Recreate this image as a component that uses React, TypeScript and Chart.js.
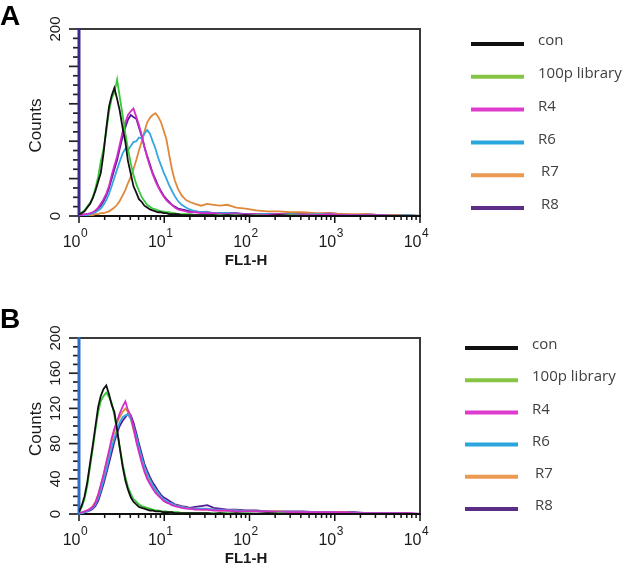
import React, { useEffect, useRef } from "react";
import { Chart, registerables } from "chart.js";

Chart.register(...registerables);

// ---------- data ----------
const SERIES_NAMES = ["con", "100p library", "R4", "R6", "R7", "R8"];
const LINE_COLORS = ["#111111", "#38c838", "#d42cc8", "#34a6e0", "#e0883a", "#561c96"];
const LEGEND_COLORS = ["#111111", "#86c443", "#df3ccf", "#2aa6dc", "#ec9a52", "#5b2d86"];

// FL1-H channel positions (log scale)
const FL1 = [
  1, 1.08, 1.16, 1.25, 1.35, 1.45, 1.56, 1.68, 1.8, 1.94,
  2.09, 2.25, 2.42, 2.6, 2.8, 3.0, 3.25, 3.5, 3.75, 4.05,
  4.35, 4.7, 5.05, 5.45, 5.85, 6.3, 6.8, 7.3, 7.9, 8.5,
  9.1, 9.8, 10.6, 11.4, 12.3, 13.3, 14.5, 16, 18, 20,
  23, 27, 32, 38, 45, 55, 70, 90, 120, 160,
  220, 300, 420, 600, 850, 1200, 1700, 2400, 3400, 5000,
  7000, 10000,
];

// Panel A counts
const A_CON = [
  2, 3, 5, 9, 13, 19, 27, 37, 46, 67,
  94, 117, 129, 137, 125, 113, 94, 79, 59, 45,
  32, 25, 18, 15, 11, 9, 7, 6, 5, 4,
  4, 3, 3, 2, 2, 2, 2, 1, 1, 1,
  1, 1, 1, 1, 0, 1, 0, 1, 0, 0,
  1, 0, 0, 0, 0, 0, 0, 0, 0, 0,
  0, 0,
];
const A_LIB = [
  2, 4, 6, 10, 14, 20, 30, 42, 58, 72,
  90, 112, 126, 132, 146, 128, 108, 88, 72, 56,
  44, 34, 27, 20, 16, 12, 10, 8, 7, 6,
  5, 5, 4, 4, 3, 3, 2, 2, 2, 2,
  1, 1, 1, 1, 1, 1, 1, 0, 1, 0,
  0, 1, 0, 0, 0, 0, 0, 0, 0, 0,
  0, 0,
];
const A_R4 = [
  1, 1, 2, 2, 3, 4, 6, 9, 13, 18,
  24, 32, 44, 54, 64, 76, 90, 100, 108, 112,
  115, 106, 97, 86, 74, 63, 53, 45, 37, 31,
  26, 21, 17, 14, 12, 9, 7, 6, 5, 4,
  4, 3, 3, 3, 2, 2, 2, 2, 2, 1,
  2, 1, 1, 1, 2, 1, 1, 1, 1, 0,
  0, 0,
];
const A_R6 = [
  0, 0, 1, 1, 2, 3, 4, 6, 8, 12,
  17, 24, 32, 41, 50, 58, 67, 72, 70, 75,
  79, 80, 84, 83, 88, 92, 88, 80, 72, 62,
  55, 47, 40, 33, 27, 21, 16, 12, 9, 7,
  5, 4, 4, 3, 3, 3, 2, 2, 2, 2,
  1, 2, 1, 2, 2, 1, 1, 1, 1, 0,
  1, 0,
];
const A_R7 = [
  0, 0, 0, 1, 1, 1, 2, 2, 3, 3,
  4, 5, 7, 9, 12, 16, 22, 28, 35, 42,
  50, 60, 70, 80, 90, 100, 105, 108, 110, 106,
  101, 92, 82, 66, 50, 38, 29, 22, 17, 15,
  13, 11, 13, 12, 11, 12, 9, 8, 6, 5,
  5, 4, 4, 3, 3, 2, 2, 2, 1, 1,
  1, 0,
];
const A_R8 = [
  1, 1, 1, 2, 2, 3, 5, 8, 11, 16,
  22, 30, 40, 50, 60, 72, 85, 95, 103, 108,
  106, 104, 95, 85, 74, 64, 55, 46, 39, 32,
  27, 22, 18, 15, 12, 10, 8, 7, 6, 5,
  5, 4, 4, 3, 3, 3, 3, 2, 2, 2,
  2, 2, 2, 2, 3, 2, 1, 2, 1, 1,
  1, 0,
];

// Panel B counts
const B_CON = [
  2, 10, 20, 36, 58, 78, 100, 122, 134, 142,
  146, 136, 124, 116, 96, 76, 54, 38, 28, 19,
  14, 11, 8, 7, 6, 5, 4, 4, 3, 3,
  3, 2, 2, 2, 2, 1, 1, 1, 1, 1,
  1, 1, 1, 0, 1, 0, 1, 0, 0, 1,
  0, 0, 0, 0, 0, 0, 0, 0, 0, 0,
  0, 0,
];
const B_LIB = [
  2, 8, 17, 32, 54, 74, 96, 116, 128, 134,
  138, 133, 126, 112, 94, 76, 57, 42, 31, 23,
  17, 14, 11, 9, 8, 7, 6, 5, 4, 4,
  3, 3, 3, 2, 2, 2, 2, 1, 1, 1,
  1, 1, 1, 1, 1, 1, 0, 1, 0, 0,
  1, 0, 0, 0, 0, 0, 0, 0, 0, 0,
  0, 0,
];
const B_R4 = [
  1, 2, 3, 4, 6, 8, 13, 22, 33, 45,
  59, 72, 86, 97, 106, 114, 122, 128, 118, 112,
  98, 82, 70, 58, 48, 40, 34, 29, 24, 21,
  18, 15, 13, 12, 10, 9, 8, 7, 6, 6,
  5, 5, 5, 4, 4, 4, 3, 3, 3, 3,
  2, 2, 2, 2, 2, 2, 1, 1, 1, 1,
  1, 0,
];
const B_R6 = [
  1, 1, 2, 3, 5, 7, 11, 18, 27, 38,
  50, 63, 76, 86, 96, 104, 110, 112, 113, 108,
  100, 88, 76, 64, 54, 46, 39, 33, 28, 24,
  20, 17, 15, 13, 12, 10, 9, 8, 7, 6,
  6, 6, 6, 5, 5, 4, 4, 3, 3, 3,
  2, 2, 2, 2, 2, 1, 1, 1, 1, 1,
  0, 0,
];
const B_R7 = [
  1, 1, 2, 4, 6, 9, 14, 22, 32, 44,
  57, 70, 83, 94, 104, 110, 116, 120, 116, 108,
  96, 84, 72, 60, 50, 42, 36, 30, 26, 22,
  19, 16, 14, 12, 11, 10, 9, 8, 7, 6,
  6, 5, 5, 5, 4, 4, 4, 3, 3, 3,
  3, 2, 2, 2, 2, 2, 1, 1, 1, 1,
  0, 0,
];
const B_R8 = [
  1, 1, 2, 3, 4, 6, 9, 15, 24, 34,
  46, 58, 70, 82, 92, 100, 106, 110, 114, 112,
  104, 92, 80, 68, 57, 49, 42, 36, 31, 26,
  22, 19, 17, 15, 13, 11, 10, 9, 8, 7,
  8, 9, 10, 7, 6, 5, 5, 4, 4, 3,
  3, 3, 3, 2, 2, 2, 2, 1, 1, 1,
  1, 0,
];

// axes / ticks
const X_DECADES = [1, 10, 100, 1000, 10000];
const X_EXPONENTS = ["0", "1", "2", "3", "4"];
const X_MINOR_MULTS = [2, 3, 4, 5, 6, 7, 8, 9];
const Y_MAX = 200;
const Y_MINOR_STEP = 10;
const Y_MAJOR_STEP = 40;
const A_Y_LABELS = [0, 200];
const B_Y_LABELS = [0, 40, 80, 120, 160, 200];
const X_TITLE = "FL1-H";
const Y_TITLE = "Counts";

const W = 642;
const H = 283;
const FONT = '"Liberation Sans", Arial, sans-serif';

type PanelCfg = {
  letter: string;
  series: number[][];
  yLabels: number[];
  top: number;
  xAxisH: number;
  leftColor: string;
  legendLeft: number;
  legendTop: number;
  legendStep: number;
  letterBaseline: number;
};

const PANELS: PanelCfg[] = [
  {
    letter: "A",
    series: [A_CON, A_LIB, A_R4, A_R6, A_R7, A_R8],
    yLabels: A_Y_LABELS,
    top: 29,
    xAxisH: 67,
    leftColor: "#3a2a8c",
    legendLeft: 471,
    legendTop: 44,
    legendStep: 32.8,
    letterBaseline: 25,
  },
  {
    letter: "B",
    series: [B_CON, B_LIB, B_R4, B_R6, B_R7, B_R8],
    yLabels: B_Y_LABELS,
    top: 55,
    xAxisH: 52,
    leftColor: "#2f6cc8",
    legendLeft: 465,
    legendTop: 65,
    legendStep: 32.2,
    letterBaseline: 45,
  },
];

function makePlugin(cfg: PanelCfg) {
  return {
    id: "facsDecor",
    beforeDatasetsDraw(chart: any) {
      const { ctx, chartArea: a, scales } = chart;
      const xs = scales.x;
      const ys = scales.y;
      ctx.save();
      // top & right frame
      ctx.strokeStyle = "#3a3a3a";
      ctx.lineWidth = 2;
      ctx.beginPath();
      ctx.moveTo(a.left, a.top);
      ctx.lineTo(a.right, a.top);
      ctx.lineTo(a.right, a.bottom);
      ctx.stroke();
      // bottom axis
      ctx.strokeStyle = "#111";
      ctx.lineWidth = 2;
      ctx.beginPath();
      ctx.moveTo(a.left, a.bottom);
      ctx.lineTo(a.right + 1, a.bottom);
      ctx.stroke();
      // x ticks
      ctx.lineWidth = 1.5;
      ctx.strokeStyle = "#111";
      X_DECADES.forEach((d, i) => {
        const px = xs.getPixelForValue(d);
        ctx.beginPath();
        ctx.moveTo(px, a.bottom);
        ctx.lineTo(px, a.bottom + 7);
        ctx.stroke();
        if (i < X_DECADES.length - 1) {
          X_MINOR_MULTS.forEach((m) => {
            const p = xs.getPixelForValue(d * m);
            ctx.beginPath();
            ctx.moveTo(p, a.bottom);
            ctx.lineTo(p, a.bottom + 4);
            ctx.stroke();
          });
        }
      });
      // y ticks
      for (let v = 0; v <= Y_MAX; v += Y_MINOR_STEP) {
        const py = ys.getPixelForValue(v);
        const len = v % Y_MAJOR_STEP === 0 ? 10 : 6;
        ctx.strokeStyle = "#222";
        ctx.lineWidth = 1.7;
        ctx.beginPath();
        ctx.moveTo(a.left - len, py);
        ctx.lineTo(a.left, py);
        ctx.stroke();
      }
      // left axis
      ctx.strokeStyle = cfg.leftColor;
      ctx.lineWidth = 3;
      ctx.beginPath();
      ctx.moveTo(a.left, a.top - 1);
      ctx.lineTo(a.left, a.bottom + 1);
      ctx.stroke();
      ctx.restore();
    },
    afterDraw(chart: any) {
      const { ctx, chartArea: a, scales } = chart;
      const xs = scales.x;
      const ys = scales.y;
      ctx.save();
      ctx.fillStyle = "#1a1a1a";
      // x tick labels 10^n
      X_DECADES.forEach((d, i) => {
        const px = xs.getPixelForValue(d);
        ctx.font = `16px ${FONT}`;
        ctx.textAlign = "right";
        ctx.textBaseline = "alphabetic";
        ctx.fillText("10", px + 1.5, a.bottom + 31);
        ctx.font = `12px ${FONT}`;
        ctx.textAlign = "left";
        ctx.fillText(X_EXPONENTS[i], px + 2, a.bottom + 21);
      });
      // x title
      ctx.font = `bold 15px ${FONT}`;
      ctx.textAlign = "center";
      ctx.fillText(X_TITLE, 246, a.bottom + 49);
      // y labels (rotated)
      cfg.yLabels.forEach((v) => {
        const py = ys.getPixelForValue(v);
        ctx.save();
        ctx.translate(55.5, py);
        ctx.rotate(-Math.PI / 2);
        ctx.font = `15px ${FONT}`;
        ctx.textAlign = "center";
        ctx.textBaseline = "middle";
        ctx.fillText(String(v), 0, 0);
        ctx.restore();
      });
      // y title
      ctx.save();
      ctx.translate(36, (a.top + a.bottom) / 2 + 3);
      ctx.rotate(-Math.PI / 2);
      ctx.font = `17px ${FONT}`;
      ctx.textAlign = "center";
      ctx.textBaseline = "middle";
      ctx.fillText(Y_TITLE, 0, 0);
      ctx.restore();
      // panel letter
      ctx.font = `bold 28px ${FONT}`;
      ctx.textAlign = "left";
      ctx.textBaseline = "alphabetic";
      ctx.fillStyle = "#000";
      ctx.fillText(cfg.letter, 0, cfg.letterBaseline);
      // legend
      SERIES_NAMES.forEach((name, i) => {
        const y = cfg.legendTop + i * cfg.legendStep;
        ctx.strokeStyle = LEGEND_COLORS[i];
        ctx.lineWidth = 4;
        ctx.beginPath();
        ctx.moveTo(cfg.legendLeft, y);
        ctx.lineTo(cfg.legendLeft + 53, y);
        ctx.stroke();
        ctx.fillStyle = "#404040";
        ctx.font = `15px "Open Sans", "Noto Sans", sans-serif`;
        ctx.textAlign = "left";
        ctx.textBaseline = "middle";
        const extra = i >= 4 ? 3 : 0;
        ctx.fillText(name, cfg.legendLeft + 67 + extra, y - 3);
      });
      ctx.restore();
    },
  };
}

function Panel({ cfg }: { cfg: PanelCfg }) {
  const ref = useRef<HTMLCanvasElement | null>(null);
  useEffect(() => {
    if (!ref.current) return;
    const chart = new Chart(ref.current, {
      type: "line",
      data: {
        datasets: cfg.series.map((vals, i) => ({
          label: SERIES_NAMES[i],
          data: FL1.map((x, j) => ({ x, y: vals[j] })),
          borderColor: LINE_COLORS[i],
          backgroundColor: LINE_COLORS[i],
          borderWidth: 1.8,
          pointRadius: 0,
          tension: 0,
          fill: false,
        })),
      },
      options: {
        responsive: false,
        animation: false,
        events: [],
        layout: { padding: { left: 0, top: cfg.top, right: W - 420, bottom: 0 } },
        plugins: { legend: { display: false }, tooltip: { enabled: false } },
        scales: {
          x: {
            type: "logarithmic",
            min: 1,
            max: 10000,
            ticks: { display: false },
            grid: { display: false },
            border: { display: false },
            afterFit: (s: any) => {
              s.height = cfg.xAxisH;
            },
          },
          y: {
            type: "linear",
            min: 0,
            max: Y_MAX,
            ticks: { display: false },
            grid: { display: false },
            border: { display: false },
            afterFit: (s: any) => {
              s.width = 79;
            },
          },
        },
      } as any,
      plugins: [makePlugin(cfg)],
    });
    return () => chart.destroy();
  }, [cfg]);
  return (
    <canvas
      ref={ref}
      width={W}
      height={H}
      style={{ display: "block", width: W, height: H }}
    />
  );
}

export default function App() {
  return (
    <div
      style={{
        position: "absolute",
        left: 0,
        top: 0,
        width: W,
        height: 566,
        background: "#fff",
      }}
    >
      {PANELS.map((p) => (
        <Panel key={p.letter} cfg={p} />
      ))}
    </div>
  );
}
